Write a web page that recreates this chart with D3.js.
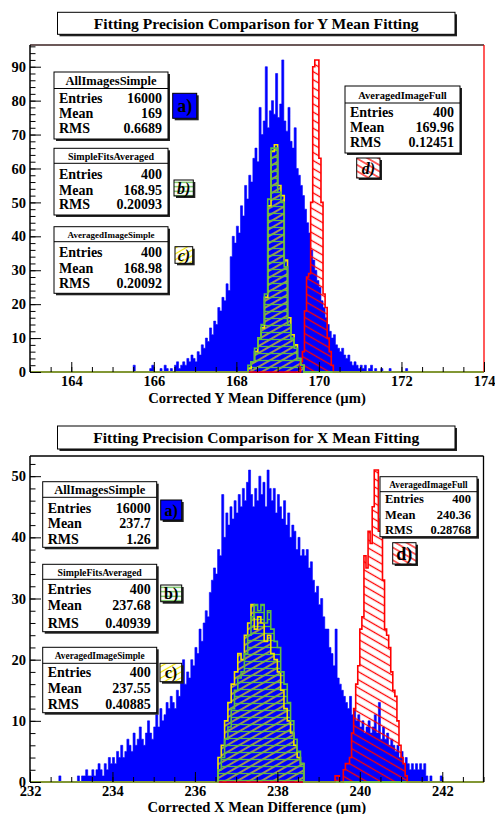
<!DOCTYPE html>
<html><head><meta charset="utf-8">
<script src="https://cdn.jsdelivr.net/npm/d3@7"></script>
<style>
body{margin:0;background:#fff}
svg{display:block}
text{font-family:"Liberation Serif","Times New Roman",serif;font-weight:bold;fill:#000}
</style>
</head><body>
<svg id="c" width="495" height="814"></svg>
<script>
// ---------------- DATA ----------------
// Top panel (Y mean fitting)
const yBlueStart = 165.50, yBlueWidth = 0.05;
const yBlue = [2,0,0,0,0,0,0,0,1,2,0,0,0,1,0,2,1,0,1,0,2,3,1,2,3,2,4,3,5,4,3,6,5,8,7,10,9,13,11,15,14,19,18,22,21,26,24,34,40,38,43,41,49,46,55,51,58,56,63,66,62,78,70,74,90,72,77,80,76,88,75,79,92,74,71,78,68,66,72,60,58,55,52,48,44,41,36,33,30,27,25,21,19,16,14,12,10,11,8,7,6,7,5,4,5,3,2,3,2,1,2,1,2,0,1,2,0,1,0,0,1,0,0,0,1,0,0,0,0,0,0,0,1];
const yAvgStart = 168.28, yAvgWidth = 0.08;
const ySimpleFits = [2,3,7,10,14,23,51,66,66,53,50,31,14,10,7,4,2];      // b)
const yAvgSimple  = [1,3,6,10,13,22,49,65,67,55,52,33,16,11,8,4,2];      // c)
const yFullStart = 169.55, yFullWidth = 0.05;
const yFull = [3,6,18,28,29,50,90,92,92,63,50,23,19,10,6,2];             // d)

// Bottom panel (X mean fitting)
const xBlueStart = 232.70, xBlueWidth = 0.05;
const xBlue = [1,0,0,0,0,0,0,0,0,1,0,1,1,2,1,1,2,1,2,3,2,1,3,2,4,3,4,3,5,4,6,4,5,7,6,5,8,6,7,9,7,6,8,10,8,7,9,11,9,12,10,11,13,12,14,13,12,15,14,17,20,16,18,17,20,19,22,21,25,23,26,28,27,31,33,35,34,38,37,47,40,44,42,45,43,46,44,47,45,48,46,49,51,47,45,48,46,50,47,49,45,51,48,46,48,44,47,45,43,46,42,44,40,42,41,38,40,37,38,37,38,35,36,33,31,32,29,30,27,25,25,22,21,19,25,17,16,15,14,13,12,14,11,12,10,11,9,10,8,9,10,8,9,11,8,13,7,9,7,8,6,7,6,5,6,4,5,3,4,3,2,3,2,3,2,3,2,3,1,0,1,0,0,0,0,1];
const xAvgStart = 236.56, xAvgWidth = 0.08;
const xSimpleFits = [2,4,7,9,12,15,17,18,21,24,27,29,28,29,26,28,25,23,22,18,16,13,10,7,5,3];   // b)
const xAvgSimple  = [4,6,10,13,16,18,21,20,24,26,29,25,27,26,23,24,21,20,18,15,12,10,8,6,4,3]; // c)
const xFullStart = 239.40, xFullWidth = 0.05;
const xFull = [1,1,0,0,2,3,3,4,8,12,16,19,25,27,37,35,41,39,45,51,51,41,43,33,25,24,22,18,15,14,10,6,4,3,1]; // d)

// Statistics boxes
const statNames = ["AllImagesSimple","SimpleFitsAveraged","AveragedImageSimple","AveragedImageFull"];
const statLabels = ["Entries","Mean","RMS"];
const yEntries = ["16000","400","400","400"];
const yMeans   = ["169","168.95","168.98","169.96"];
const yRMS     = ["0.6689","0.20093","0.20092","0.12451"];
const xEntries = ["16000","400","400","400"];
const xMeans   = ["237.7","237.68","237.55","240.36"];
const xRMS     = ["1.26","0.40939","0.40885","0.28768"];
const legendLabels = ["a)","b)","c)","d)"];
const titles = ["Fitting Precision Comparison for Y Mean Fitting","Fitting Precision Comparison for X Mean Fitting"];
const axisTitles = ["Corrected Y Mean Difference (\u00b5m)","Corrected X Mean Difference (\u00b5m)"];
const yMajorTicks = [[0,10,20,30,40,50,60,70,80,90],[0,10,20,30,40,50]];
const xMajorTicks = [[164,166,168,170,172,174],[232,234,236,238,240,242]];

// ---------------- STYLE / LAYOUT ----------------
const BLUE="#0000ff", GREEN="#5dbb46", YELLOW="#f2e400", RED="#ff0000";
const svg = d3.select("#c");
const defs = svg.append("defs");
function pattern(id, color, angle, spacing, sw){
  const p = defs.append("pattern").attr("id",id).attr("patternUnits","userSpaceOnUse")
    .attr("width",20).attr("height",spacing).attr("patternTransform",`rotate(${angle})`);
  p.append("line").attr("x1",0).attr("x2",20).attr("y1",spacing/2).attr("y2",spacing/2)
    .attr("stroke",color).attr("stroke-width",sw);
}
pattern("hg",GREEN,0,7,1.3);
pattern("hy",YELLOW,-30,6,1.3);
pattern("hr",RED,30,7,1.3);
pattern("hgL",GREEN,0,4.5,1.2);
pattern("hyL",YELLOW,-30,5,1.2);
pattern("hrL",RED,30,5.5,1.2);

const panels = [
  { frame:{x0:30,y0:45,x1:484,y1:372}, xDom:[163,174], yMax:96.4,
    titleBox:[57.5,12.3,397.5,22], titleBase:28.5, xTitleBase:402.5,
    rightColor:RED, topColor:"#3b2222",
    blue:[yBlueStart,yBlueWidth,yBlue], b:[yAvgStart,yAvgWidth,ySimpleFits],
    c:[yAvgStart,yAvgWidth,yAvgSimple], d:[yFullStart,yFullWidth,yFull],
    stats:[yEntries,yMeans,yRMS],
    boxes:[
      {x:54,y:72,w:114,h:67,ts:12.5,fs:14,tb:12.5,sep:16.5,rows:[31,46,61]},
      {x:54,y:148.3,w:114,h:66.7,ts:10,fs:14,tb:12,sep:15,rows:[31,46.7,61]},
      {x:54,y:226.7,w:114,h:66.6,ts:9,fs:14,tb:11.5,sep:15,rows:[30,46.6,61.6]},
      {x:345,y:86,w:115,h:67,ts:10.5,fs:14,tb:12.5,sep:17,rows:[31,46,61]}],
    legends:[[172.7,93.3,24,25,18,false],[174,180,19.3,16,16,true],[175,246.7,17.7,16.6,16,true],[356.7,158,23.3,20,16,true]] },
  { frame:{x0:30,y0:456,x1:483.5,y1:782}, xDom:[232,243], yMax:53.3,
    titleBox:[57.5,426,397.5,23], titleBase:442.5, xTitleBase:812,
    rightColor:"#000", topColor:"#000",
    blue:[xBlueStart,xBlueWidth,xBlue], b:[xAvgStart,xAvgWidth,xSimpleFits],
    c:[xAvgStart,xAvgWidth,xAvgSimple], d:[xFullStart,xFullWidth,xFull],
    stats:[xEntries,xMeans,xRMS],
    boxes:[
      {x:42.7,y:481.7,w:114,h:65.6,ts:12.5,fs:14,tb:12,sep:15.6,rows:[31,46.6,62.3]},
      {x:42.7,y:564.3,w:114,h:67.4,ts:9.8,fs:14,tb:11.5,sep:15,rows:[29.7,45.7,64]},
      {x:42.7,y:647.3,w:114,h:65.4,ts:9.3,fs:14,tb:11.5,sep:16,rows:[29.4,46,62]},
      {x:380,y:476.7,w:97,h:60,ts:9.3,fs:12.5,tb:11,sep:15,rows:[26.6,42.6,57.3]}],
    legends:[[160.7,500,21,20,16,false],[160.7,585,21,16.7,16,false],[160,663.3,21.7,18.4,16,false],[392.7,542.7,23.3,21.3,18,false]] }
];

function stepPoints(start,w,vals){
  const pts = vals.map((v,i)=>[start+i*w, v]);
  pts.push([start+vals.length*w, vals[vals.length-1]]);
  return pts;
}
function areaPath(h,xs,ys){
  return d3.area().x(d=>xs(d[0])).y0(ys(0)).y1(d=>ys(d[1])).curve(d3.curveStepAfter)(stepPoints(h[0],h[1],h[2]));
}
function outlinePath(h,xs,ys,dom){
  const [start,w,vals]=h;
  const pts=[[dom[0],0]].concat(vals.map((v,i)=>[start+i*w,v]));
  pts.push([start+vals.length*w,0]); pts.push([dom[1],0]);
  return d3.line().x(d=>xs(d[0])).y(d=>ys(d[1])).curve(d3.curveStepAfter)(pts);
}

panels.forEach((P,pi)=>{
  const f=P.frame;
  const xs=d3.scaleLinear().domain(P.xDom).range([f.x0,f.x1]);
  const ys=d3.scaleLinear().domain([0,P.yMax]).range([f.y1,f.y0]);
  const g=svg.append("g");

  g.append("line").attr("x1",f.x0).attr("x2",f.x1).attr("y1",f.y1).attr("y2",f.y1).attr("stroke","#000").attr("stroke-width",1.5);

  g.append("path").attr("d",areaPath(P.blue,xs,ys)).attr("fill",BLUE).attr("stroke",BLUE).attr("stroke-width",0.6);
  const hs=[[P.c,"url(#hy)",YELLOW],[P.d,"url(#hr)",RED],[P.b,"url(#hg)",GREEN]];
  hs.forEach(([h,fill,col])=>{
    g.append("path").attr("d",areaPath(h,xs,ys)).attr("fill",fill);
  });
  hs.forEach(([h,fill,col])=>{
    g.append("path").attr("d",outlinePath(h,xs,ys,P.xDom)).attr("fill","none").attr("stroke",col).attr("stroke-width",1.6);
  });

  g.append("line").attr("x1",f.x0).attr("x2",f.x1).attr("y1",f.y0).attr("y2",f.y0).attr("stroke",P.topColor).attr("stroke-width",1.5);
  g.append("line").attr("x1",f.x1).attr("x2",f.x1).attr("y1",f.y0).attr("y2",f.y1).attr("stroke",P.rightColor).attr("stroke-width",1.3);
  g.append("line").attr("x1",f.x0).attr("x2",f.x0).attr("y1",f.y0).attr("y2",f.y1).attr("stroke","#000").attr("stroke-width",1.5);

  const yMinor=d3.range(0,P.yMax,2);
  const xMinor=d3.range(P.xDom[0],P.xDom[1]+0.001,0.5);
  g.append("g").attr("transform",`translate(${f.x0},0)`)
    .call(d3.axisLeft(ys).tickValues(yMajorTicks[pi]).tickSize(-11).tickPadding(4).tickFormat(d3.format("d")));
  g.append("g").attr("transform",`translate(${f.x0},0)`)
    .call(d3.axisLeft(ys).tickValues(yMinor).tickSize(-5.5).tickFormat(""));
  g.append("g").attr("transform",`translate(0,${f.y1})`)
    .call(d3.axisBottom(xs).tickValues(xMajorTicks[pi]).tickSize(-10).tickPadding(4).tickFormat(d3.format("d")));
  g.append("g").attr("transform",`translate(0,${f.y1})`)
    .call(d3.axisBottom(xs).tickValues(xMinor).tickSize(-5).tickFormat(""));
  g.selectAll(".domain").remove();
  g.selectAll(".tick line").attr("stroke","#000").attr("stroke-width",1);
  g.selectAll(".tick text").attr("font-size",14.5).attr("font-family","Liberation Serif").attr("font-weight","bold").attr("fill","#000");

  g.append("text").attr("x",(f.x0+f.x1)/2).attr("y",P.xTitleBase).attr("text-anchor","middle")
    .attr("font-size",14.6).text(axisTitles[pi]);

  const tb=P.titleBox;
  g.append("rect").attr("x",tb[0]+2).attr("y",tb[1]+2).attr("width",tb[2]).attr("height",tb[3]).attr("fill","#222");
  g.append("rect").attr("x",tb[0]).attr("y",tb[1]).attr("width",tb[2]).attr("height",tb[3]).attr("fill","#fff").attr("stroke","#000").attr("stroke-width",1);
  g.append("text").attr("x",tb[0]+tb[2]/2).attr("y",P.titleBase).attr("text-anchor","middle").attr("font-size",15.6).text(titles[pi]);

  P.boxes.forEach((b,k)=>{
    g.append("rect").attr("x",b.x+2).attr("y",b.y+2).attr("width",b.w).attr("height",b.h).attr("fill","#222");
    g.append("rect").attr("x",b.x).attr("y",b.y).attr("width",b.w).attr("height",b.h).attr("fill","#fff").attr("stroke","#000").attr("stroke-width",1);
    g.append("line").attr("x1",b.x).attr("x2",b.x+b.w).attr("y1",b.y+b.sep).attr("y2",b.y+b.sep).attr("stroke","#000").attr("stroke-width",1);
    g.append("text").attr("x",b.x+b.w/2).attr("y",b.y+b.tb).attr("text-anchor","middle").attr("font-size",b.ts).text(statNames[k]);
    statLabels.forEach((lab,r)=>{
      g.append("text").attr("x",b.x+5).attr("y",b.y+b.rows[r]).attr("font-size",b.fs).text(lab);
      g.append("text").attr("x",b.x+b.w-6).attr("y",b.y+b.rows[r]).attr("text-anchor","end").attr("font-size",b.fs).text(P.stats[r][k]);
    });
  });

  const lfills=[BLUE,"url(#hgL)","url(#hyL)","url(#hrL)"];
  P.legends.forEach((L,k)=>{
    const [x,y,w,h,fsz,ital]=L;
    g.append("rect").attr("x",x+2).attr("y",y+2).attr("width",w).attr("height",h).attr("fill","#222");
    g.append("rect").attr("x",x).attr("y",y).attr("width",w).attr("height",h).attr("fill","#fff");
    g.append("rect").attr("x",x).attr("y",y).attr("width",w).attr("height",h).attr("fill",lfills[k]).attr("stroke","#000").attr("stroke-width",1);
    g.append("text").attr("x",x+w/2).attr("y",y+h/2).attr("dy","0.35em").attr("text-anchor","middle")
      .attr("font-size",fsz).attr("font-style",ital?"italic":"normal").attr("font-weight",ital?"normal":"bold")
      .text(legendLabels[k]);
  });
});
</script>
</body></html>
